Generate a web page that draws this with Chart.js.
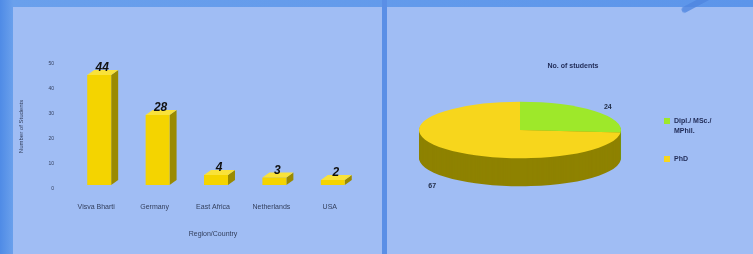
<!DOCTYPE html>
<html>
<head>
<meta charset="utf-8">
<script src="https://cdn.jsdelivr.net/npm/chart.js@4"></script>
<style>
  html, body { margin: 0; padding: 0; }
  body {
    width: 753px; height: 254px; overflow: hidden; position: relative;
    background: linear-gradient(90deg, #4f8be6 0px, #6aa0ec 13px, #5c95ea 100%);
  }
  .panel { position: absolute; top: 7px; height: 247px; background: #a0bdf4; }
  #leftPanel { left: 13px; width: 369px; }
  #rightPanel { left: 387px; width: 366px; }
  .sep { position: absolute; left: 382px; top: 0; width: 5px; height: 254px; background: #5a8fe6; }
  .stroke { position: absolute; left: 682px; top: 8px; width: 60px; height: 6px; background: #4f86e0;
            transform: rotate(-28deg); transform-origin: left center; opacity: 0.8; border-radius: 3px; }
  canvas { position: absolute; top: 0; left: 0; }
</style>
</head>
<body>
<div class="sep"></div>
<div class="panel" id="leftPanel"><canvas id="barChart" width="369" height="247"></canvas></div>
<div class="panel" id="rightPanel"><canvas id="pieChart" width="366" height="247"></canvas></div>
<div class="stroke"></div>
<script>
// Bar chart data
const regions = ['Visva Bharti', 'Germany', 'East Africa', 'Netherlands', 'USA'];
const studentsByRegion = [44, 28, 4, 3, 2];
const yTicks = [0, 10, 20, 30, 40, 50];

// Pie chart data
const degreeLabels = [['Dipl./ MSc./', 'MPhil.'], ['PhD']];
const studentsByDegree = [24, 67];
const pieColors = ['#9ee82a', '#f7d61c'];
const pieSideColors = ['#6f9c12', '#8e8200'];

const textColor = '#34405e';
const fontFamily = '"Liberation Sans", Arial, sans-serif';

// 3D look for the bars: side + top faces, value labels
const bar3d = {
    id: 'bar3d',
    beforeDatasetsDraw(chart) {
        const ctx = chart.ctx;
        ctx.save();
        ctx.translate(3, -4);
        const meta = chart.getDatasetMeta(0);
        const dx = 7, dy = 5;
        meta.data.forEach((bar) => {
            const { x, y, base, width } = bar.getProps(['x', 'y', 'base', 'width']);
            const l = x - width / 2, r = x + width / 2;
            // side
            ctx.fillStyle = '#9a8a00';
            ctx.beginPath();
            ctx.moveTo(r, y); ctx.lineTo(r + dx, y - dy); ctx.lineTo(r + dx, base - dy); ctx.lineTo(r, base);
            ctx.closePath(); ctx.fill();
            // top
            ctx.fillStyle = '#f9e23a';
            ctx.beginPath();
            ctx.moveTo(l, y); ctx.lineTo(r, y); ctx.lineTo(r + dx, y - dy); ctx.lineTo(l + dx, y - dy);
            ctx.closePath(); ctx.fill();
        });
    },
    afterDatasetsDraw(chart) {
        const ctx = chart.ctx;
        const meta = chart.getDatasetMeta(0);
        ctx.font = 'italic bold 12px ' + fontFamily;
        ctx.fillStyle = '#111';
        ctx.textAlign = 'center';
        ctx.textBaseline = 'middle';
        meta.data.forEach((bar, i) => {
            ctx.fillText(String(studentsByRegion[i]), bar.x + 3, bar.y - 7);
        });
        ctx.restore();
    }
};

new Chart(document.getElementById('barChart').getContext('2d'), {
    type: 'bar',
    data: {
        labels: regions,
        datasets: [{
            data: studentsByRegion,
            backgroundColor: '#f4d400',
            borderWidth: 0,
            categoryPercentage: 1,
            barPercentage: 0.41
        }]
    },
    options: {
        responsive: false,
        animation: false,
        layout: { padding: { top: 57, right: 23, left: 0, bottom: 0 } },
        plugins: { legend: { display: false }, tooltip: { enabled: false } },
        scales: {
            x: {
                grid: { display: false },
                border: { display: false },
                ticks: { color: textColor, font: { family: fontFamily, size: 7 }, padding: 6, maxRotation: 0 },
                title: { display: true, text: 'Region/Country', color: textColor,
                         font: { family: fontFamily, size: 7 }, padding: { top: 4, bottom: 16 } },
                afterFit(scale) { scale.height = 65; }
            },
            y: {
                min: 0, max: 50,
                grid: { display: false },
                border: { display: false },
                afterBuildTicks(scale) { scale.ticks = yTicks.map(v => ({ value: v })); },
                ticks: { color: textColor, font: { family: fontFamily, size: 5 }, padding: 5 },
                title: { display: true, text: 'Number of Students', color: textColor,
                         font: { family: fontFamily, size: 6 }, padding: { top: 5, bottom: 0 } },
                afterFit(scale) { scale.width = 54; }
            }
        }
    },
    plugins: [bar3d]
});

// Flattened, extruded pie with labels, title and legend
const pie3d = {
    id: 'pie3d',
    beforeDatasetsDraw(chart) {
        const ctx = chart.ctx;
        const meta = chart.getDatasetMeta(0);
        const first = meta.data[0];
        const cx = first.x, cy = first.y;
        const squash = 0.28, depth = 28;
        const ds = chart.data.datasets[0];

        // side walls
        for (let d = depth; d >= 1; d--) {
            ctx.save();
            ctx.translate(cx, cy + d);
            ctx.scale(1, squash);
            ctx.translate(-cx, -cy);
            meta.data.forEach((arc, i) => {
                const saved = arc.options.backgroundColor;
                arc.options.backgroundColor = pieSideColors[i];
                arc.draw(ctx);
                arc.options.backgroundColor = saved;
            });
            ctx.restore();
        }
        // top face
        ctx.save();
        ctx.translate(cx, cy);
        ctx.scale(1, squash);
        ctx.translate(-cx, -cy);
        meta.data.forEach(arc => arc.draw(ctx));
        ctx.restore();

        // value labels
        ctx.save();
        ctx.font = 'bold 7px ' + fontFamily;
        ctx.fillStyle = '#1f2a44';
        ctx.textAlign = 'center';
        ctx.textBaseline = 'middle';
        meta.data.forEach((arc, i) => {
            const mid = (arc.startAngle + arc.endAngle) / 2;
            const rr = arc.outerRadius * 1.18;
            const lx = cx + Math.cos(mid) * rr;
            let ly = cy + Math.sin(mid) * rr * squash;
            if (Math.sin(mid) > 0) ly += depth + 6;
            ctx.fillText(String(ds.data[i]), lx, ly);
        });

        // title
        ctx.font = 'bold 7px ' + fontFamily;
        ctx.fillStyle = '#1f2a55';
        ctx.fillText('No. of students', 186, 59);

        // legend
        ctx.textAlign = 'left';
        let ly = 114;
        chart.data.labels.forEach((lab, i) => {
            ctx.fillStyle = pieColors[i];
            ctx.fillRect(277, ly - 3, 6, 6);
            ctx.fillStyle = '#1f2a55';
            const lines = Array.isArray(lab) ? lab : [lab];
            lines.forEach((t, k) => ctx.fillText(t, 287, ly + k * 10));
            ly += 38;
        });
        ctx.restore();
        return false;
    }
};

new Chart(document.getElementById('pieChart').getContext('2d'), {
    type: 'pie',
    data: {
        labels: degreeLabels,
        datasets: [{
            data: studentsByDegree,
            backgroundColor: pieColors,
            borderWidth: 0
        }]
    },
    options: {
        responsive: false,
        animation: false,
        layout: { padding: { left: 32, right: 132, top: 22, bottom: 23 } },
        plugins: { legend: { display: false }, tooltip: { enabled: false } }
    },
    plugins: [pie3d]
});
</script>
</body>
</html>
